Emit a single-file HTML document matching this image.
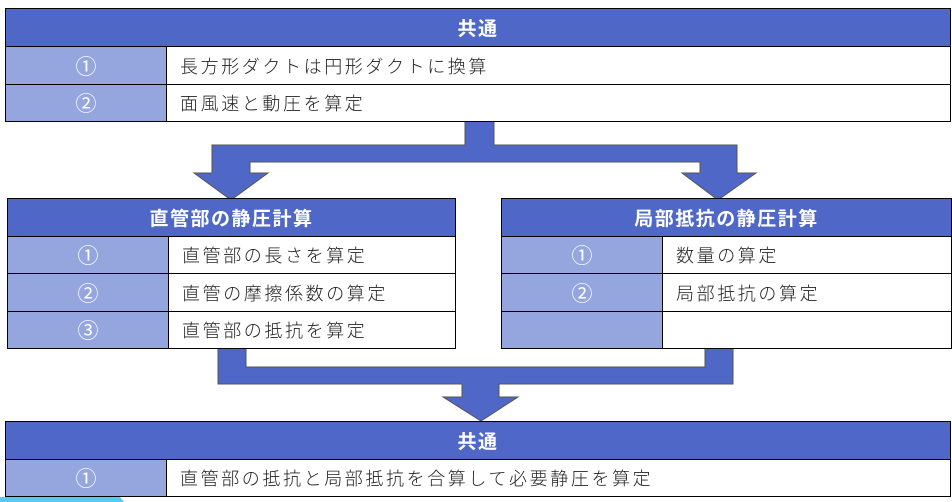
<!DOCTYPE html>
<html><head><meta charset="utf-8"><style>
body{margin:0;width:952px;height:502px;background:#fff;position:relative;overflow:hidden;font-family:"Liberation Sans","Noto Sans CJK JP",sans-serif}
.c{position:absolute;box-sizing:border-box;border:1px solid #000;display:flex;align-items:center;font-size:18px;color:#222}
.h{background:#4F68C8;color:#fff;font-weight:bold;justify-content:center;font-size:19px;letter-spacing:1.5px}
.n{background:#95A6DF;color:#fff;justify-content:center;font-size:21px}
.t{background:#fff;padding-left:13px;letter-spacing:2.6px;font-weight:300}
svg{position:absolute;left:0;top:0}
</style></head><body>
<svg width="952" height="502">
<g fill="#4F68C8" stroke="#555" stroke-width="1">
<polygon points="465,121 494,121 494,145 737,145 737,173 756,173 718,200 682,173 700,173 700,162 250,162 250,173 268,173 231,200 194,173 212,173 212,145 465,145"/>
<polygon points="218,348 246,348 246,367 705,367 705,347 733,347 733,384 499,384 499,397 518,397 481,421 443,397 462,397 462,384 218,384"/>
</g>
<polygon points="0,497 120,497 124,502 0,502" fill="#5BC8F0"/>
</svg>
<div class="c h" style="left:5px;top:8px;width:946px;height:39px">共通</div>
<div class="c n" style="left:5px;top:46px;width:162px;height:39px">①</div>
<div class="c t" style="left:166px;top:46px;width:785px;height:39px">長方形ダクトは円形ダクトに換算</div>
<div class="c n" style="left:5px;top:84px;width:162px;height:38px">②</div>
<div class="c t" style="left:166px;top:84px;width:785px;height:38px">面風速と動圧を算定</div>

<div class="c h" style="left:7px;top:198px;width:449px;height:39px">直管部の静圧計算</div>
<div class="c n" style="left:7px;top:236px;width:162px;height:38px">①</div>
<div class="c t" style="left:168px;top:236px;width:288px;height:38px">直管部の長さを算定</div>
<div class="c n" style="left:7px;top:273px;width:162px;height:39px">②</div>
<div class="c t" style="left:168px;top:273px;width:288px;height:39px">直管の摩擦係数の算定</div>
<div class="c n" style="left:7px;top:311px;width:162px;height:38px">③</div>
<div class="c t" style="left:168px;top:311px;width:288px;height:38px">直管部の抵抗を算定</div>

<div class="c h" style="left:501px;top:198px;width:451px;height:39px">局部抵抗の静圧計算</div>
<div class="c n" style="left:501px;top:236px;width:162px;height:38px">①</div>
<div class="c t" style="left:662px;top:236px;width:290px;height:38px">数量の算定</div>
<div class="c n" style="left:501px;top:273px;width:162px;height:39px">②</div>
<div class="c t" style="left:662px;top:273px;width:290px;height:39px">局部抵抗の算定</div>
<div class="c n" style="left:501px;top:311px;width:162px;height:38px"></div>
<div class="c t" style="left:662px;top:311px;width:290px;height:38px"></div>

<div class="c h" style="left:5px;top:421px;width:946px;height:39px">共通</div>
<div class="c n" style="left:5px;top:459px;width:162px;height:38px">①</div>
<div class="c t" style="left:166px;top:459px;width:785px;height:38px">直管部の抵抗と局部抵抗を合算して必要静圧を算定</div>
</body></html>
